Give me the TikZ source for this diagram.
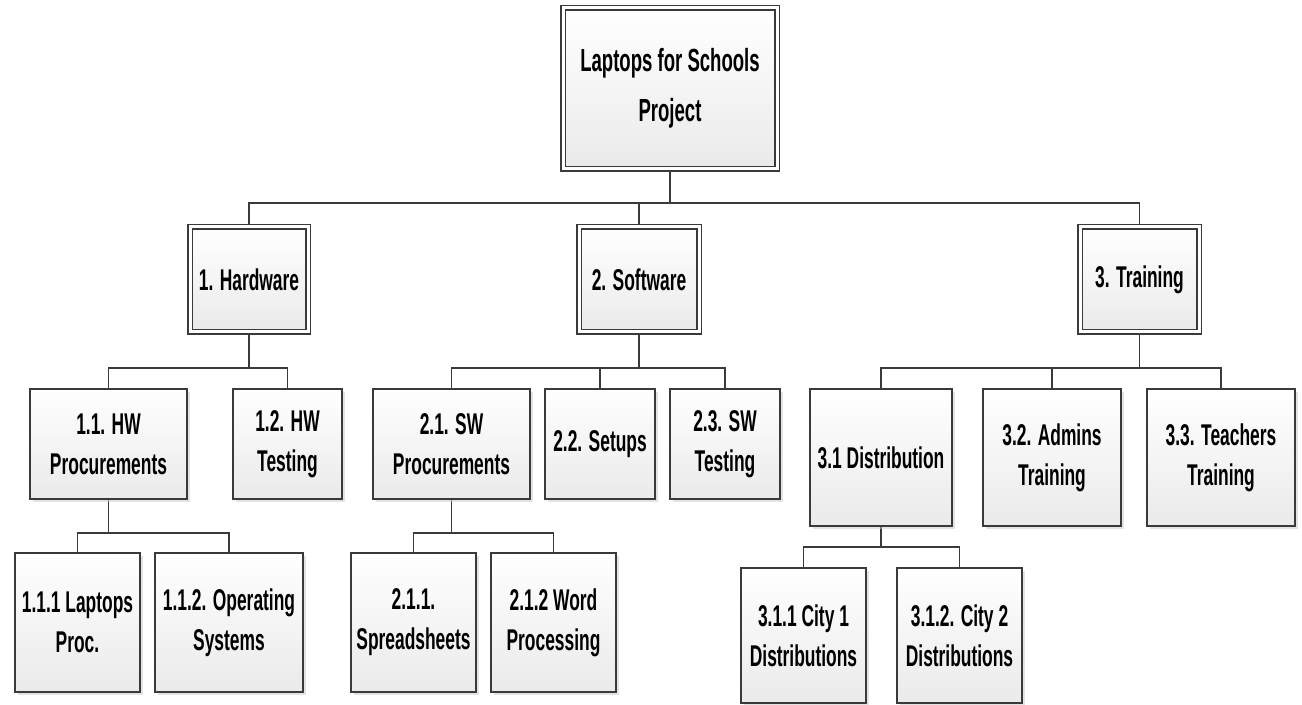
\documentclass[tikz,border=0pt]{standalone}
\usepackage{fontspec}
\newfontfamily\wbsfont{Liberation Sans}[FakeStretch=0.58]
\usetikzlibrary{shadows, backgrounds}
\definecolor{wbsedge}{RGB}{58,58,58}
\definecolor{wbsshade}{RGB}{234,234,234}
\tikzset{
  wbsbox/.style={draw=wbsedge, line width=0.75pt,
    top color=white, bottom color=wbsshade,
    drop shadow={shadow xshift=1.6pt, shadow yshift=-1.6pt, fill=black!22},
    align=center, inner sep=0pt, outer sep=0pt,
    font=\wbsfont\bfseries\fontsize{15}{20}\selectfont},
  wbshead/.style={wbsbox, double=white, double distance=1.5pt, line width=0.6pt},
  link/.style={draw=wbsedge, line width=0.75pt},
}

\begin{document}
\begin{tikzpicture}[x=0.5pt, y=-0.5pt]
  \useasboundingbox (0,0) rectangle (1302,705);

  % project root
  \node[wbshead, minimum width=107pt, minimum height=80.5pt,
        font=\wbsfont\bfseries\fontsize{16}{25}\selectfont]
    (root) at (670,88.5) {Laptops for Schools\\Project};

  % level 1
  \node[wbshead, minimum width=59pt, minimum height=52.5pt] (hw) at (249,279.5) {1. Hardware};
  \node[wbshead, minimum width=60pt, minimum height=52.5pt] (sw) at (639,279.5) {2. Software};
  \node[wbshead, minimum width=59.5pt, minimum height=52.5pt] (tr) at (1139.5,279.5) {3. Training};

  % level 2
  \node[wbsbox, minimum width=78.5pt, minimum height=55pt] (hwp) at (108.5,444) {1.1. HW\\Procurements};
  \node[wbsbox, minimum width=54.5pt, minimum height=55pt] (hwt) at (287.5,444) {1.2. HW\\Testing};
  \node[wbsbox, minimum width=78.5pt, minimum height=55pt] (swp) at (451.5,444) {2.1. SW\\Procurements};
  \node[wbsbox, minimum width=55pt, minimum height=55pt] (setup) at (600,444) {2.2. Setups};
  \node[wbsbox, minimum width=55pt, minimum height=55pt] (swt) at (725,444) {2.3. SW\\Testing};
  \node[wbsbox, minimum width=71pt, minimum height=68.5pt] (dist) at (881,457.5) {3.1 Distribution};
  \node[wbsbox, minimum width=69pt, minimum height=68.5pt] (adm) at (1052,457.5) {3.2. Admins\\Training};
  \node[wbsbox, minimum width=74pt, minimum height=68.5pt] (tch) at (1221,457.5) {3.3. Teachers\\Training};

  % level 3
  \node[wbsbox, minimum width=62.5pt, minimum height=69.5pt] (lap) at (77.5,622.5) {1.1.1 Laptops\\Proc.};
  \node[wbsbox, minimum width=74pt, minimum height=69.5pt] (os) at (229,622.5) {1.1.2. Operating\\Systems};
  \node[wbsbox, minimum width=62.5pt, minimum height=69.5pt] (ss) at (413.5,622.5) {2.1.1.\\Spreadsheets};
  \node[wbsbox, minimum width=62.5pt, minimum height=69.5pt] (wp) at (553.5,622.5) {2.1.2 Word\\Processing};
  \node[wbsbox, minimum width=62.5pt, minimum height=67.5pt] (c1) at (803.5,635.5) {3.1.1 City 1\\Distributions};
  \node[wbsbox, minimum width=62.5pt, minimum height=67.5pt] (c2) at (959.5,635.5) {3.1.2. City 2\\Distributions};

  % bus heights under each parent
  \coordinate (root-bus) at (670,203);
  \coordinate (hw-bus) at (249,368);
  \coordinate (sw-bus) at (639,368);
  \coordinate (tr-bus) at (1139.5,368);
  \coordinate (hwp-bus) at (108.5,533);
  \coordinate (swp-bus) at (451.5,533);
  \coordinate (dist-bus) at (881,547);

  % tree connectors
  \begin{scope}[on background layer]
    \foreach \p/\c in {root/hw, root/sw, root/tr,
                       hw/hwp, hw/hwt, sw/swp, sw/setup, sw/swt,
                       tr/dist, tr/adm, tr/tch,
                       hwp/lap, hwp/os, swp/ss, swp/wp, dist/c1, dist/c2}
      \draw[link] (\p.south) -- (\p-bus) -| (\c.north);
  \end{scope}
\end{tikzpicture}
\end{document}
